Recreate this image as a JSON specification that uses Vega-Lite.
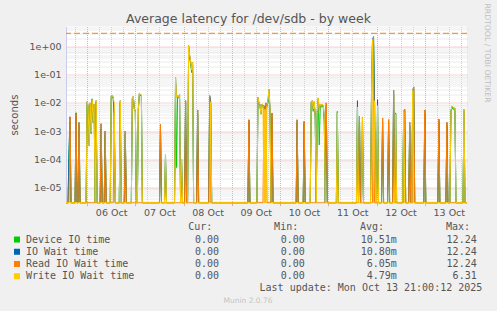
{
  "$schema": "https://vega.github.io/schema/vega-lite/v6.json",
  "width": 401,
  "height": 176.2,
  "autosize": "none",
  "padding": {"left": 66, "top": 26.5, "right": 30, "bottom": 108.3},
  "background": "#f0f0f0",
  "config": {
    "view": {"stroke": null, "fill": "white"},
    "text": {"font": "DejaVu Sans"}
  },
  "data": {"values": [
        {"t":"2025-10-05T13:30","d":0,"i":0,"r":0,"w":0},
        {"t":"2025-10-05T14:30","d":0,"i":0,"r":0,"w":0},
        {"t":"2025-10-05T15:00","d":0.00018,"i":0.00018,"r":0,"w":0},
        {"t":"2025-10-05T15:30","d":0.002,"i":0.0032,"r":0.0032,"w":0},
        {"t":"2025-10-05T16:00","d":0,"i":0,"r":0,"w":0},
        {"t":"2025-10-05T18:00","d":0,"i":0,"r":0,"w":0},
        {"t":"2025-10-05T18:30","d":0.0045,"i":0.0043,"r":0.0043,"w":0},
        {"t":"2025-10-05T19:00","d":0,"i":0,"r":0,"w":0},
        {"t":"2025-10-05T19:30","d":0,"i":0,"r":0,"w":0},
        {"t":"2025-10-05T20:00","d":0.0015,"i":0.002,"r":0.002,"w":0},
        {"t":"2025-10-05T20:30","d":0,"i":0,"r":0,"w":0},
        {"t":"2025-10-05T23:30","d":0,"i":0,"r":0,"w":0},
        {"t":"2025-10-06T00:00","d":0.01,"i":0.011,"r":0,"w":0.011},
        {"t":"2025-10-06T00:30","d":0.007,"i":0.008,"r":0,"w":0.008},
        {"t":"2025-10-06T01:00","d":0.0004,"i":0.0003,"r":0,"w":0.0003},
        {"t":"2025-10-06T01:30","d":0.009,"i":0.01,"r":0,"w":0.01},
        {"t":"2025-10-06T02:00","d":0.0008,"i":0.0009,"r":0,"w":0.0009},
        {"t":"2025-10-06T02:30","d":0.014,"i":0.013,"r":0,"w":0.013},
        {"t":"2025-10-06T03:00","d":0.002,"i":0.002,"r":0,"w":0.002},
        {"t":"2025-10-06T03:30","d":0.008,"i":0.009,"r":0,"w":0.009},
        {"t":"2025-10-06T04:00","d":0,"i":0,"r":0,"w":0},
        {"t":"2025-10-06T04:30","d":0.01,"i":0.012,"r":0,"w":0.012},
        {"t":"2025-10-06T05:00","d":0,"i":0,"r":0,"w":0},
        {"t":"2025-10-06T06:30","d":0,"i":0,"r":0,"w":0},
        {"t":"2025-10-06T07:00","d":0.0012,"i":0.0018,"r":0.0018,"w":0},
        {"t":"2025-10-06T07:30","d":0,"i":0,"r":0,"w":0},
        {"t":"2025-10-06T08:30","d":0,"i":0,"r":0,"w":0},
        {"t":"2025-10-06T09:00","d":0.0008,"i":0.001,"r":0.001,"w":0},
        {"t":"2025-10-06T09:30","d":0,"i":0,"r":0,"w":0},
        {"t":"2025-10-06T11:30","d":0,"i":0,"r":0,"w":0},
        {"t":"2025-10-06T12:00","d":0.015,"i":0.017,"r":0,"w":0.017},
        {"t":"2025-10-06T12:30","d":0.018,"i":0.019,"r":0,"w":0.019},
        {"t":"2025-10-06T13:00","d":0.014,"i":0.015,"r":0,"w":0.015},
        {"t":"2025-10-06T13:30","d":0.003,"i":0.004,"r":0.003,"w":0.01},
        {"t":"2025-10-06T14:00","d":0,"i":0,"r":0,"w":0},
        {"t":"2025-10-06T16:00","d":0,"i":0,"r":0,"w":0},
        {"t":"2025-10-06T16:30","d":0.01,"i":0.012,"r":0,"w":0.012},
        {"t":"2025-10-06T17:00","d":0,"i":0,"r":0,"w":0},
        {"t":"2025-10-06T18:30","d":0,"i":0,"r":0,"w":0},
        {"t":"2025-10-06T19:00","d":0.0008,"i":0.001,"r":0.001,"w":0},
        {"t":"2025-10-06T19:30","d":0,"i":0,"r":0,"w":0},
        {"t":"2025-10-06T22:00","d":0,"i":0,"r":0,"w":0},
        {"t":"2025-10-06T22:30","d":0.014,"i":0.015,"r":0,"w":0.015},
        {"t":"2025-10-06T23:00","d":0.016,"i":0.017,"r":0,"w":0.017},
        {"t":"2025-10-06T23:30","d":0.006,"i":0.006,"r":0,"w":0.006},
        {"t":"2025-10-07T00:00","d":0.005,"i":0.005,"r":0,"w":0.005},
        {"t":"2025-10-07T00:30","d":0,"i":0,"r":0,"w":0},
        {"t":"2025-10-07T01:00","d":0,"i":0,"r":0,"w":0},
        {"t":"2025-10-07T01:30","d":0.0065,"i":0.006,"r":0,"w":0.006},
        {"t":"2025-10-07T02:00","d":0.02,"i":0.022,"r":0,"w":0.022},
        {"t":"2025-10-07T02:30","d":0.019,"i":0.02,"r":0,"w":0.02},
        {"t":"2025-10-07T03:00","d":0.017,"i":0.019,"r":0,"w":0.019},
        {"t":"2025-10-07T03:30","d":0,"i":0,"r":0,"w":0},
        {"t":"2025-10-07T12:00","d":0,"i":0,"r":0,"w":0},
        {"t":"2025-10-07T12:30","d":0.0012,"i":0.0017,"r":0.0017,"w":0},
        {"t":"2025-10-07T13:00","d":0,"i":0,"r":0,"w":0},
        {"t":"2025-10-07T14:30","d":0,"i":0,"r":0,"w":0},
        {"t":"2025-10-07T15:00","d":0.0001,"i":0.00015,"r":0,"w":0.00015},
        {"t":"2025-10-07T15:30","d":0,"i":0,"r":0,"w":0},
        {"t":"2025-10-07T19:30","d":0,"i":0,"r":0,"w":0},
        {"t":"2025-10-07T20:00","d":0.05,"i":0.079,"r":0,"w":0.079},
        {"t":"2025-10-07T20:30","d":0.00005,"i":0.015,"r":0,"w":0.015},
        {"t":"2025-10-07T21:00","d":0.016,"i":0.018,"r":0,"w":0.018},
        {"t":"2025-10-07T21:30","d":0.015,"i":0.016,"r":0,"w":0.016},
        {"t":"2025-10-07T22:00","d":0.018,"i":0.02,"r":0,"w":0.02},
        {"t":"2025-10-07T22:30","d":0,"i":0,"r":0,"w":0},
        {"t":"2025-10-07T23:00","d":0.00008,"i":0.0001,"r":0,"w":0.0001},
        {"t":"2025-10-07T23:30","d":0,"i":0,"r":0,"w":0},
        {"t":"2025-10-08T00:30","d":0,"i":0,"r":0,"w":0},
        {"t":"2025-10-08T01:00","d":0.01,"i":0.012,"r":0.012,"w":0},
        {"t":"2025-10-08T01:30","d":0,"i":0,"r":0,"w":0},
        {"t":"2025-10-08T02:00","d":0,"i":0,"r":0,"w":0},
        {"t":"2025-10-08T02:30","d":0.8,"i":1.1,"r":0,"w":1.1},
        {"t":"2025-10-08T03:00","d":0.4,"i":0.5,"r":0,"w":0.5},
        {"t":"2025-10-08T03:30","d":0.25,"i":0.3,"r":0,"w":0.3},
        {"t":"2025-10-08T04:00","d":0.12,"i":0.15,"r":0,"w":0.15},
        {"t":"2025-10-08T04:30","d":0.22,"i":0.28,"r":0,"w":0.28},
        {"t":"2025-10-08T05:00","d":0,"i":0,"r":0,"w":0},
        {"t":"2025-10-08T06:30","d":0,"i":0,"r":0,"w":0},
        {"t":"2025-10-08T07:00","d":0.004,"i":0.0056,"r":0.0056,"w":0},
        {"t":"2025-10-08T07:30","d":0,"i":0,"r":0,"w":0},
        {"t":"2025-10-08T12:30","d":0,"i":0,"r":0,"w":0},
        {"t":"2025-10-08T13:00","d":0.016,"i":0.018,"r":0.018,"w":0},
        {"t":"2025-10-08T13:30","d":0.009,"i":0.011,"r":0,"w":0.011},
        {"t":"2025-10-08T14:00","d":0,"i":0,"r":0,"w":0},
        {"t":"2025-10-09T08:00","d":0,"i":0,"r":0,"w":0},
        {"t":"2025-10-09T08:30","d":0.002,"i":0.0025,"r":0.0025,"w":0},
        {"t":"2025-10-09T09:00","d":0,"i":0,"r":0,"w":0},
        {"t":"2025-10-09T12:30","d":0,"i":0,"r":0,"w":0},
        {"t":"2025-10-09T13:00","d":0.014,"i":0.016,"r":0,"w":0.016},
        {"t":"2025-10-09T13:30","d":0.009,"i":0.01,"r":0,"w":0.01},
        {"t":"2025-10-09T14:00","d":0.008,"i":0.009,"r":0,"w":0.009},
        {"t":"2025-10-09T14:30","d":0.004,"i":0.004,"r":0,"w":0.004},
        {"t":"2025-10-09T15:00","d":0.008,"i":0.009,"r":0,"w":0.009},
        {"t":"2025-10-09T15:30","d":0.007,"i":0.008,"r":0,"w":0.008},
        {"t":"2025-10-09T16:00","d":0.007,"i":0.008,"r":0.008,"w":0},
        {"t":"2025-10-09T16:30","d":0.005,"i":0.006,"r":0,"w":0.006},
        {"t":"2025-10-09T17:00","d":0.009,"i":0.01,"r":0.01,"w":0},
        {"t":"2025-10-09T17:30","d":0.007,"i":0.008,"r":0,"w":0.008},
        {"t":"2025-10-09T18:00","d":0.01,"i":0.012,"r":0,"w":0.012},
        {"t":"2025-10-09T18:30","d":0.02,"i":0.031,"r":0,"w":0.031},
        {"t":"2025-10-09T19:00","d":0.005,"i":0.006,"r":0,"w":0.006},
        {"t":"2025-10-09T19:30","d":0,"i":0,"r":0,"w":0},
        {"t":"2025-10-09T20:00","d":0.003,"i":0.0043,"r":0.0043,"w":0},
        {"t":"2025-10-09T20:30","d":0,"i":0,"r":0,"w":0},
        {"t":"2025-10-10T08:00","d":0,"i":0,"r":0,"w":0},
        {"t":"2025-10-10T08:30","d":0.002,"i":0.0025,"r":0.0025,"w":0},
        {"t":"2025-10-10T09:00","d":0,"i":0,"r":0,"w":0},
        {"t":"2025-10-10T11:30","d":0,"i":0,"r":0,"w":0},
        {"t":"2025-10-10T12:00","d":0.0018,"i":0.0022,"r":0.0022,"w":0},
        {"t":"2025-10-10T12:30","d":0,"i":0,"r":0,"w":0},
        {"t":"2025-10-10T15:00","d":0,"i":0,"r":0,"w":0},
        {"t":"2025-10-10T15:30","d":0.01,"i":0.011,"r":0,"w":0.011},
        {"t":"2025-10-10T16:00","d":0.011,"i":0.012,"r":0,"w":0.012},
        {"t":"2025-10-10T16:30","d":0.005,"i":0.006,"r":0,"w":0.006},
        {"t":"2025-10-10T17:00","d":0.01,"i":0.011,"r":0,"w":0.011},
        {"t":"2025-10-10T17:30","d":0.003,"i":0.003,"r":0,"w":0.003},
        {"t":"2025-10-10T18:00","d":0,"i":0,"r":0,"w":0},
        {"t":"2025-10-10T18:30","d":0.004,"i":0.005,"r":0,"w":0.005},
        {"t":"2025-10-10T19:00","d":0.012,"i":0.015,"r":0,"w":0.015},
        {"t":"2025-10-10T19:30","d":0.00032,"i":0.004,"r":0,"w":0.004},
        {"t":"2025-10-10T20:00","d":0.008,"i":0.009,"r":0,"w":0.009},
        {"t":"2025-10-10T20:30","d":0.007,"i":0.008,"r":0,"w":0.008},
        {"t":"2025-10-10T21:00","d":0.008,"i":0.009,"r":0,"w":0.009},
        {"t":"2025-10-10T21:30","d":0.007,"i":0.008,"r":0,"w":0.008},
        {"t":"2025-10-10T22:00","d":0.002,"i":0.003,"r":0,"w":0.003},
        {"t":"2025-10-10T22:30","d":0,"i":0,"r":0,"w":0},
        {"t":"2025-10-10T23:00","d":0.008,"i":0.01,"r":0.01,"w":0},
        {"t":"2025-10-10T23:30","d":0,"i":0,"r":0,"w":0},
        {"t":"2025-10-11T04:00","d":0,"i":0,"r":0,"w":0},
        {"t":"2025-10-11T04:30","d":0.005,"i":0.0045,"r":0,"w":0.0045},
        {"t":"2025-10-11T05:00","d":0,"i":0,"r":0,"w":0},
        {"t":"2025-10-11T14:00","d":0,"i":0,"r":0,"w":0},
        {"t":"2025-10-11T14:30","d":0.006,"i":0.012,"r":0,"w":0.007},
        {"t":"2025-10-11T15:00","d":0,"i":0,"r":0,"w":0},
        {"t":"2025-10-11T15:30","d":0.003,"i":0.0034,"r":0.0034,"w":0},
        {"t":"2025-10-11T16:00","d":0,"i":0,"r":0,"w":0},
        {"t":"2025-10-11T16:30","d":0,"i":0,"r":0,"w":0},
        {"t":"2025-10-11T17:00","d":0.003,"i":0.003,"r":0,"w":0.003},
        {"t":"2025-10-11T17:30","d":0,"i":0,"r":0,"w":0},
        {"t":"2025-10-11T21:00","d":0,"i":0,"r":0,"w":0},
        {"t":"2025-10-11T21:30","d":0.02,"i":0.027,"r":0,"w":0.027},
        {"t":"2025-10-11T22:00","d":1.5,"i":1.8,"r":0,"w":1.8},
        {"t":"2025-10-11T22:30","d":1.8,"i":2.3,"r":2.3,"w":0},
        {"t":"2025-10-11T23:00","d":0.01,"i":0.012,"r":0,"w":0.012},
        {"t":"2025-10-11T23:30","d":0,"i":0,"r":0,"w":0},
        {"t":"2025-10-12T00:00","d":0,"i":0,"r":0,"w":0},
        {"t":"2025-10-12T00:30","d":0.007,"i":0.013,"r":0,"w":0.008},
        {"t":"2025-10-12T01:00","d":0,"i":0,"r":0,"w":0},
        {"t":"2025-10-12T02:30","d":0,"i":0,"r":0,"w":0},
        {"t":"2025-10-12T03:00","d":0.002,"i":0.0029,"r":0.0029,"w":0},
        {"t":"2025-10-12T03:30","d":0,"i":0,"r":0,"w":0},
        {"t":"2025-10-12T05:30","d":0,"i":0,"r":0,"w":0},
        {"t":"2025-10-12T06:00","d":0.002,"i":0.0025,"r":0.0025,"w":0},
        {"t":"2025-10-12T06:30","d":0,"i":0,"r":0,"w":0},
        {"t":"2025-10-12T08:00","d":0,"i":0,"r":0,"w":0},
        {"t":"2025-10-12T08:30","d":0.02,"i":0.028,"r":0.028,"w":0},
        {"t":"2025-10-12T09:00","d":0,"i":0,"r":0,"w":0},
        {"t":"2025-10-12T09:30","d":0.0044,"i":0.004,"r":0,"w":0.004},
        {"t":"2025-10-12T10:00","d":0,"i":0,"r":0,"w":0},
        {"t":"2025-10-12T13:00","d":0,"i":0,"r":0,"w":0},
        {"t":"2025-10-12T13:30","d":0.004,"i":0.005,"r":0,"w":0.005},
        {"t":"2025-10-12T14:00","d":0.005,"i":0.006,"r":0.006,"w":0},
        {"t":"2025-10-12T14:30","d":0,"i":0,"r":0,"w":0},
        {"t":"2025-10-12T16:00","d":0,"i":0,"r":0,"w":0},
        {"t":"2025-10-12T16:30","d":0.0015,"i":0.002,"r":0.002,"w":0},
        {"t":"2025-10-12T17:00","d":0,"i":0,"r":0,"w":0},
        {"t":"2025-10-12T17:30","d":0,"i":0,"r":0,"w":0},
        {"t":"2025-10-12T18:00","d":0.025,"i":0.028,"r":0,"w":0.028},
        {"t":"2025-10-12T18:30","d":0.03,"i":0.037,"r":0.037,"w":0},
        {"t":"2025-10-12T19:00","d":0,"i":0,"r":0,"w":0},
        {"t":"2025-10-12T23:30","d":0,"i":0,"r":0,"w":0},
        {"t":"2025-10-13T00:00","d":0.004,"i":0.0056,"r":0.0056,"w":0},
        {"t":"2025-10-13T00:30","d":0,"i":0,"r":0,"w":0},
        {"t":"2025-10-13T06:30","d":0,"i":0,"r":0,"w":0},
        {"t":"2025-10-13T07:00","d":0.002,"i":0.0026,"r":0.0026,"w":0},
        {"t":"2025-10-13T07:30","d":0,"i":0,"r":0,"w":0},
        {"t":"2025-10-13T10:30","d":0,"i":0,"r":0,"w":0},
        {"t":"2025-10-13T11:00","d":0.0015,"i":0.002,"r":0.002,"w":0},
        {"t":"2025-10-13T11:30","d":0,"i":0,"r":0,"w":0},
        {"t":"2025-10-13T12:30","d":0,"i":0,"r":0,"w":0},
        {"t":"2025-10-13T13:00","d":0.005,"i":0.005,"r":0,"w":0.005},
        {"t":"2025-10-13T13:30","d":0.007,"i":0.0075,"r":0,"w":0.0075},
        {"t":"2025-10-13T14:00","d":0.006,"i":0.007,"r":0,"w":0.007},
        {"t":"2025-10-13T14:30","d":0.006,"i":0.0065,"r":0,"w":0.0065},
        {"t":"2025-10-13T15:00","d":0.005,"i":0.0065,"r":0,"w":0.0065},
        {"t":"2025-10-13T15:30","d":0,"i":0,"r":0,"w":0},
        {"t":"2025-10-13T19:00","d":0,"i":0,"r":0,"w":0},
        {"t":"2025-10-13T19:30","d":0.005,"i":0.0058,"r":0,"w":0.0058},
        {"t":"2025-10-13T20:00","d":0,"i":0,"r":0,"w":0},
        {"t":"2025-10-13T21:00","d":0,"i":0,"r":0,"w":0}
  ]},
  "resolve": {"scale": {"x": "independent", "y": "independent"}},
  "layer": [
    {
      "mark": {"type": "line", "color": "#00cc00", "strokeWidth": 1},
      "encoding": {
        "x": {"field": "t", "type": "temporal", "scale": {"nice": false},
          "axis": {"orient": "bottom", "title": null, "tickCount": 33, "labels": false, "ticks": false, "domain": false,
            "grid": true, "gridColor": "#d0d0d0", "gridDash": [1, 1]}},
        "y": {"field": "d", "type": "quantitative",
          "scale": {"type": "log", "nice": false, "clamp": true, "domain": [2.808e-6, 5.235]},
          "axis": {"orient": "left", "title": null, "labels": false, "ticks": false, "domain": false,
            "values": [3e-6, 4e-6, 5e-6, 6e-6, 7e-6, 8e-6, 9e-6, 2e-5, 3e-5, 4e-5, 5e-5, 6e-5, 7e-5, 8e-5, 9e-5, 2e-4, 3e-4, 4e-4, 5e-4, 6e-4, 7e-4, 8e-4, 9e-4, 2e-3, 3e-3, 4e-3, 5e-3, 6e-3, 7e-3, 8e-3, 9e-3, 2e-2, 3e-2, 4e-2, 5e-2, 6e-2, 7e-2, 8e-2, 9e-2, 0.2, 0.3, 0.4, 0.5, 0.6, 0.7, 0.8, 0.9, 2, 3, 4, 5],
            "grid": true, "gridColor": "#d8d8d8", "gridDash": [1, 1]}}
      }
    },
    {
      "mark": {"type": "line", "color": "#0066b3", "strokeWidth": 1},
      "encoding": {
        "x": {"field": "t", "type": "temporal", "scale": {"nice": false},
          "axis": {"orient": "bottom", "title": null, "tickCount": 8, "format": "%d %b", "labelOffset": 24, "labelAlign": "center",
            "labelOverlap": false, "labelFlush": false, "labelBound": false, "labelPadding": 2,
            "labelFont": "DejaVu Sans", "labelFontSize": 9.5, "labelColor": "#555555",
            "ticks": true, "tickSize": 3, "tickColor": "#e8a8a8", "domain": false,
            "grid": true, "gridColor": "#e8a8a8", "gridDash": [1, 1]}},
        "y": {"field": "i", "type": "quantitative",
          "scale": {"type": "log", "nice": false, "clamp": true, "domain": [2.808e-6, 5.235]},
          "axis": {"orient": "left", "title": "seconds",
            "titleFont": "DejaVu Sans", "titleFontSize": 10, "titleFontWeight": "normal", "titleColor": "#555555", "titlePadding": 10,
            "values": [1e-5, 1e-4, 1e-3, 1e-2, 0.1, 1],
            "labelExpr": "'1e' + (datum.value < 0.5 ? '-' : '+') + '0' + abs(round(log(datum.value)/LN10))",
            "labelOverlap": false, "labelFlush": false, "labelBound": false, "labelPadding": 5,
            "labelFont": "DejaVu Sans", "labelFontSize": 9.5, "labelColor": "#555555",
            "ticks": false, "domain": true, "domainColor": "#ccccee",
            "grid": true, "gridColor": "#e8a8a8", "gridDash": [1, 1]}}
      }
    },
    {
      "mark": {"type": "line", "color": "#ff8000", "strokeWidth": 1},
      "encoding": {
        "x": {"field": "t", "type": "temporal", "axis": null, "scale": {"nice": false}},
        "y": {"field": "r", "type": "quantitative", "axis": null,
          "scale": {"type": "log", "nice": false, "clamp": true, "domain": [2.808e-6, 5.235]}}
      }
    },
    {
      "mark": {"type": "line", "color": "#ffcc00", "strokeWidth": 1},
      "encoding": {
        "x": {"field": "t", "type": "temporal", "axis": null, "scale": {"nice": false}},
        "y": {"field": "w", "type": "quantitative", "axis": null,
          "scale": {"type": "log", "nice": false, "clamp": true, "domain": [2.808e-6, 5.235]}}
      }
    },
    {
      "data": {"values": [{"warn": 3}]},
      "mark": {"type": "rule", "color": "#ff8000", "strokeWidth": 1, "strokeDash": [6, 3]},
      "encoding": {
        "y": {"field": "warn", "type": "quantitative", "axis": null,
          "scale": {"type": "log", "nice": false, "clamp": true, "domain": [2.808e-6, 5.235]}}
      }
    },
    {
      "data": {"values": [
        {"s": "Device IO time", "cur": "0.00", "min": "0.00", "avg": "10.51m", "max": "12.24"},
        {"s": "IO Wait time", "cur": "0.00", "min": "0.00", "avg": "10.80m", "max": "12.24"},
        {"s": "Read IO Wait time", "cur": "0.00", "min": "0.00", "avg": "6.05m", "max": "12.24"},
        {"s": "Write IO Wait time", "cur": "0.00", "min": "0.00", "avg": "4.79m", "max": "6.31"}
      ]},
      "resolve": {"scale": {"x": "independent"}},
      "layer": [
        {
          "mark": {"type": "point", "shape": "square", "filled": true, "size": 36, "opacity": 1},
          "encoding": {
            "x": {"datum": "sq", "type": "nominal", "axis": null, "scale": {"type": "point", "domain": ["sq", "lbl"], "range": [-49, -40], "padding": 0}},
            "y": {"field": "s", "type": "nominal", "axis": null, "scale": {"type": "point", "domain": ["h", "Device IO time", "IO Wait time", "Read IO Wait time", "Write IO Wait time", "upd", "munin"], "range": [200.8, 274.2], "padding": 0}},
            "color": {"field": "s", "type": "nominal", "legend": null, "scale": {"domain": ["Device IO time", "IO Wait time", "Read IO Wait time", "Write IO Wait time"], "range": ["#00cc00", "#0066b3", "#ff8000", "#ffcc00"]}}
          }
        },
        {
          "mark": {"type": "text", "align": "left", "baseline": "middle", "font": "DejaVu Sans Mono", "fontSize": 10, "color": "#555555"},
          "encoding": {
            "x": {"datum": "lbl", "type": "nominal", "axis": null, "scale": {"type": "point", "domain": ["sq", "lbl"], "range": [-49, -40], "padding": 0}},
            "y": {"field": "s", "type": "nominal", "axis": null, "scale": {"type": "point", "domain": ["h", "Device IO time", "IO Wait time", "Read IO Wait time", "Write IO Wait time", "upd", "munin"], "range": [200.8, 274.2], "padding": 0}},
            "text": {"field": "s"}
          }
        },
        {
          "transform": [{"fold": ["cur", "min", "avg", "max"], "as": ["col", "val"]}, {"filter": "indexof(datum.val, 'm') < 0"}],
          "mark": {"type": "text", "align": "right", "baseline": "middle", "font": "DejaVu Sans Mono", "fontSize": 10, "color": "#555555"},
          "encoding": {
            "x": {"field": "col", "type": "nominal", "axis": null, "scale": {"type": "point", "domain": ["cur", "min", "avg", "max"], "range": [153, 410.7], "padding": 0}},
            "y": {"field": "s", "type": "nominal", "axis": null, "scale": {"type": "point", "domain": ["h", "Device IO time", "IO Wait time", "Read IO Wait time", "Write IO Wait time", "upd", "munin"], "range": [200.8, 274.2], "padding": 0}},
            "text": {"field": "val"}
          }
        },
        {
          "transform": [{"fold": ["cur", "min", "avg", "max"], "as": ["col", "val"]}, {"filter": "indexof(datum.val, 'm') >= 0"}],
          "mark": {"type": "text", "align": "right", "baseline": "middle", "font": "DejaVu Sans Mono", "fontSize": 10, "color": "#555555"},
          "encoding": {
            "x": {"field": "col", "type": "nominal", "axis": null, "scale": {"type": "point", "domain": ["cur", "min", "avg", "max"], "range": [159, 416.7], "padding": 0}},
            "y": {"field": "s", "type": "nominal", "axis": null, "scale": {"type": "point", "domain": ["h", "Device IO time", "IO Wait time", "Read IO Wait time", "Write IO Wait time", "upd", "munin"], "range": [200.8, 274.2], "padding": 0}},
            "text": {"field": "val"}
          }
        },
        {
          "data": {"values": [
            {"col": "cur", "h": "Cur:"},
            {"col": "min", "h": "Min:"},
            {"col": "avg", "h": "Avg:"},
            {"col": "max", "h": "Max:"}
          ]},
          "mark": {"type": "text", "align": "right", "baseline": "middle", "font": "DejaVu Sans Mono", "fontSize": 10, "color": "#555555"},
          "encoding": {
            "x": {"field": "col", "type": "nominal", "axis": null, "scale": {"type": "point", "domain": ["cur", "min", "avg", "max"], "range": [146.3, 404], "padding": 0}},
            "y": {"datum": "h", "type": "nominal", "axis": null, "scale": {"type": "point", "domain": ["h", "Device IO time", "IO Wait time", "Read IO Wait time", "Write IO Wait time", "upd", "munin"], "range": [200.8, 274.2], "padding": 0}},
            "text": {"field": "h"}
          }
        },
        {
          "data": {"values": [{"k": "upd", "txt": "Last update: Mon Oct 13 21:00:12 2025"}, {"k": "munin", "txt": "Munin 2.0.76"}]},
          "layer": [
            {
              "transform": [{"filter": "datum.k == 'upd'"}],
              "mark": {"type": "text", "align": "right", "baseline": "middle", "font": "DejaVu Sans Mono", "fontSize": 10, "color": "#555555"},
              "encoding": {
                "x": {"field": "k", "type": "nominal", "axis": null, "scale": {"type": "point", "domain": ["munin", "upd"], "range": [182, 416.3], "padding": 0}},
                "y": {"field": "k", "type": "nominal", "axis": null, "scale": {"type": "point", "domain": ["h", "Device IO time", "IO Wait time", "Read IO Wait time", "Write IO Wait time", "upd", "munin"], "range": [200.8, 274.2], "padding": 0}},
                "text": {"field": "txt"}
              }
            },
            {
              "transform": [{"filter": "datum.k == 'munin'"}],
              "mark": {"type": "text", "align": "center", "baseline": "middle", "font": "DejaVu Sans", "fontSize": 7.5, "color": "#c4c4c4"},
              "encoding": {
                "x": {"field": "k", "type": "nominal", "axis": null, "scale": {"type": "point", "domain": ["munin", "upd"], "range": [182, 416.3], "padding": 0}},
                "y": {"field": "k", "type": "nominal", "axis": null, "scale": {"type": "point", "domain": ["h", "Device IO time", "IO Wait time", "Read IO Wait time", "Write IO Wait time", "upd", "munin"], "range": [200.8, 274.2], "padding": 0}},
                "text": {"field": "txt"}
              }
            }
          ]
        }
      ]
    },
    {
      "data": {"values": [{"k": "title", "txt": "Average latency for /dev/sdb - by week"}, {"k": "rrd", "txt": "RRDTOOL / TOBI OETIKER"}]},
      "encoding": {
        "x": {"field": "k", "type": "nominal", "axis": null, "scale": {"type": "point", "domain": ["title", "rrd"], "range": [182.5, 420.7], "padding": 0}},
        "y": {"field": "k", "type": "nominal", "axis": null, "scale": {"type": "point", "domain": ["title", "rrd"], "range": [-7.2, 26.5], "padding": 0}},
        "text": {"field": "txt"}
      },
      "layer": [
        {
          "transform": [{"filter": "datum.k == 'title'"}],
          "mark": {"type": "text", "align": "center", "baseline": "middle", "font": "DejaVu Sans", "fontSize": 12.5, "color": "#555555"}
        },
        {
          "transform": [{"filter": "datum.k == 'rrd'"}],
          "mark": {"type": "text", "align": "center", "baseline": "middle", "angle": 90, "font": "DejaVu Sans", "fontSize": 7.7, "color": "#c0c0c0"}
        }
      ]
    }
  ]
}
